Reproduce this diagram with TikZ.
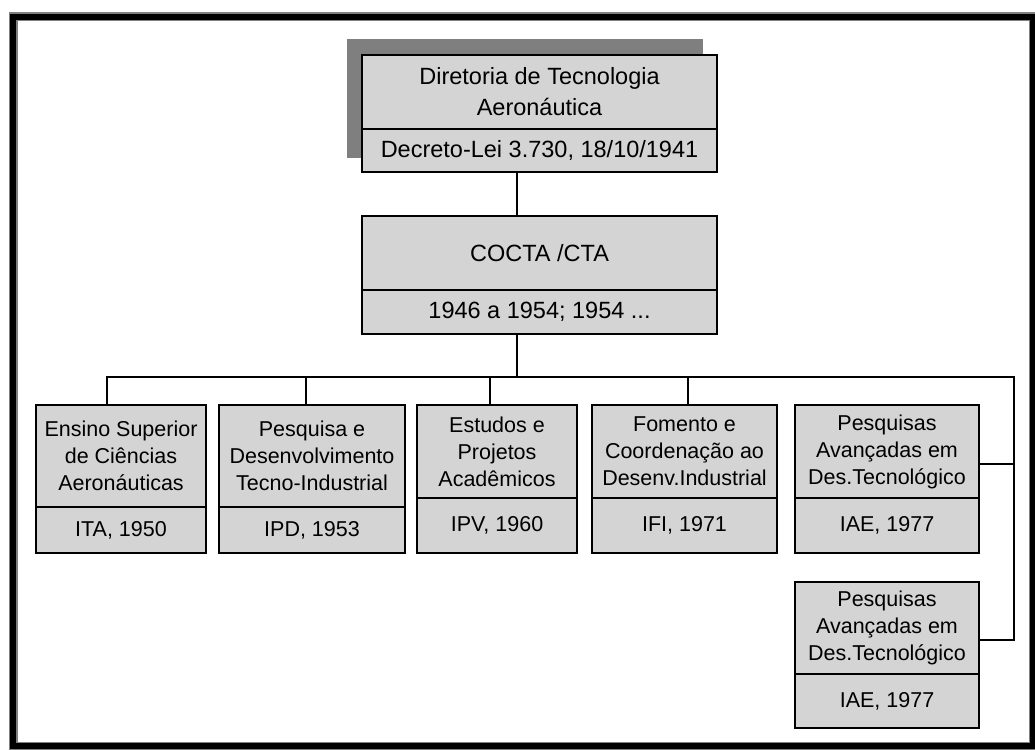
\documentclass[tikz,border=0pt]{standalone}
\usepackage{fontspec}
\setmainfont{Liberation Sans}
\usetikzlibrary{positioning}
\definecolor{boxgray}{HTML}{D4D4D4}
\definecolor{shadowgray}{HTML}{7F7F7F}

\begin{document}
\begin{tikzpicture}
    [x=1pt,y=-1pt,
      box/.style={draw,fill=boxgray,line width=1.5pt,outer sep=0pt,inner sep=0pt,align=center},
      bigbox/.style={box,minimum width=355pt,font=\fontsize{23.5}{31}\selectfont},
      smallbox/.style={box,font=\fontsize{21.5}{27}\selectfont},
      link/.style={line width=1.5pt},
    ]
    \useasboundingbox (0,0) rectangle (1035,749);
    \draw [gray, line width=9pt] (13,17) rectangle (1033,746);
    \draw [black, line width=6.5pt] (13,17) rectangle (1033,746);

    % top
    \fill [shadowgray] (347,39) rectangle (703,158);
    \node [bigbox, minimum height=74pt, anchor=north west] (dta) at (362,55) {Diretoria de Tecnologia\\Aeronáutica};
    \node [bigbox, minimum height=43pt, below=0pt of dta] (dtaL) {Decreto-Lei 3.730, 18/10/1941};
    \node [bigbox, minimum height=74pt, anchor=north west] (cocta) at (362,216) {COCTA /CTA};
    \node [bigbox, minimum height=44pt, below=0pt of cocta] (coctaL) {1946 a 1954; 1954 ...};

    % institutes
    \node [smallbox, minimum width=170pt, minimum height=102pt, anchor=north west] (ita) at (36,405) {Ensino Superior\\de Ciências\\Aeronáuticas};
    \node [smallbox, minimum width=170pt, minimum height=46pt, below=0pt of ita] (itaL) {ITA, 1950};
    \node [smallbox, minimum width=186pt, minimum height=102pt, anchor=north west] (ipd) at (219,405) {Pesquisa e\\Desenvolvimento\\Tecno-Industrial};
    \node [smallbox, minimum width=186pt, minimum height=46pt, below=0pt of ipd] (ipdL) {IPD, 1953};
    \node [smallbox, minimum width=160pt, minimum height=93pt, anchor=north west] (ipv) at (417,405) {Estudos e\\Projetos\\Acadêmicos};
    \node [smallbox, minimum width=160pt, minimum height=55pt, below=0pt of ipv] (ipvL) {IPV, 1960};
    \node [smallbox, minimum width=185pt, minimum height=93pt, anchor=north west] (ifi) at (592,405) {Fomento e\\Coordenação ao\\Desenv.Industrial};
    \node [smallbox, minimum width=185pt, minimum height=55pt, below=0pt of ifi] (ifiL) {IFI, 1971};
    \node [smallbox, minimum width=184pt, minimum height=93pt, anchor=north west] (iae) at (795,405) {Pesquisas\\Avançadas em\\Des.Tecnológico};
    \node [smallbox, minimum width=184pt, minimum height=55pt, below=0pt of iae] (iaeL) {IAE, 1977};
    \node [smallbox, minimum width=184pt, minimum height=92pt, anchor=north west] (iaeB) at (795,582) {Pesquisas\\Avançadas em\\Des.Tecnológico};
    \node [smallbox, minimum width=184pt, minimum height=54pt, below=0pt of iaeB] (iaeBL) {IAE, 1977};

    % connectors
    \coordinate (bus) at (517,377);
    \coordinate (busW) at (107,377);
    \coordinate (busE) at (1014,377);
    \coordinate (dropB) at (306,377);
    \coordinate (dropC) at (490,377);
    \coordinate (dropD) at (688,377);
    \coordinate (tapA) at (1014,464);
    \coordinate (tapB) at (1014,640);
    \draw [link] (dtaL.south -| bus) -- (cocta.north -| bus);
    \draw [link] (coctaL.south -| bus) -- (bus);
    \draw [link] (busW |- ita.north) -- (busW) -- (busE) -- (tapB) -- (iaeB.east |- tapB);
    \draw [link] (dropB) -- (dropB |- ipd.north);
    \draw [link] (dropC) -- (dropC |- ipv.north);
    \draw [link] (dropD) -- (dropD |- ifi.north);
    \draw [link] (tapA) -- (iae.east |- tapA);
  \end{tikzpicture}
\end{document}
